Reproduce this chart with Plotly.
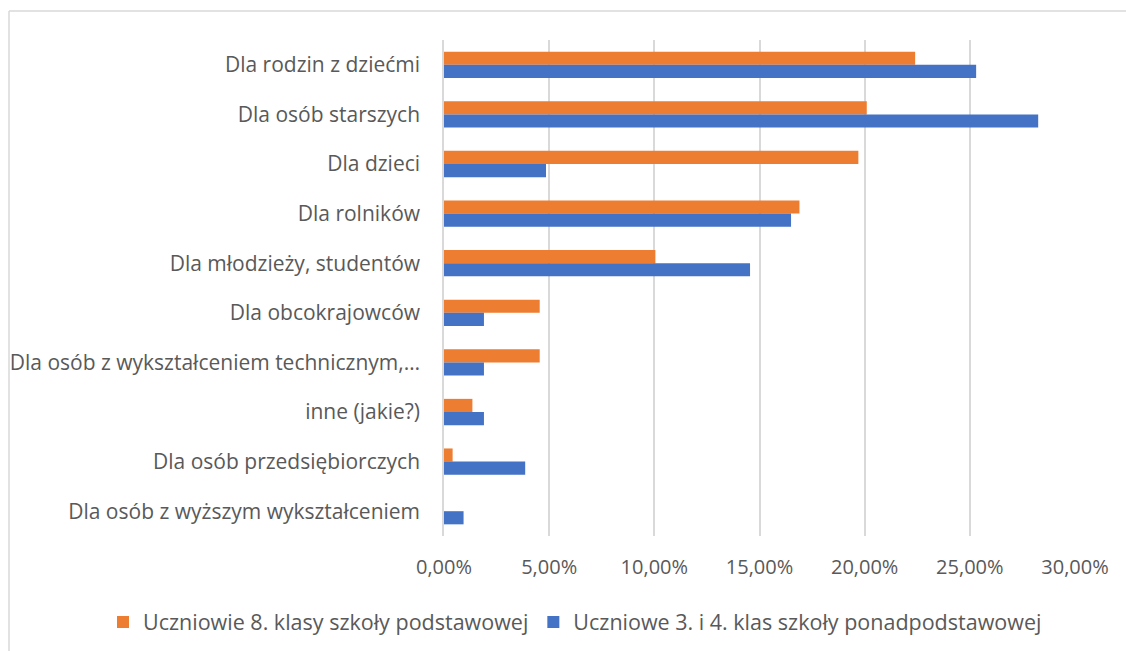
import plotly.graph_objects as go

categories = [
    "Dla rodzin z dziećmi",
    "Dla osób starszych",
    "Dla dzieci",
    "Dla rolników",
    "Dla młodzieży, studentów",
    "Dla obcokrajowców",
    "Dla osób z wykształceniem technicznym,…",
    "inne (jakie?)",
    "Dla osób przedsiębiorczych",
    "Dla osób z wyższym wykształceniem",
]
series_8 = [0.224, 0.201, 0.197, 0.169, 0.1005, 0.0455, 0.0455, 0.0135, 0.0041, 0.0]
series_34 = [0.253, 0.2825, 0.0485, 0.165, 0.1455, 0.019, 0.019, 0.019, 0.0386, 0.0093]
name_8 = "Uczniowie 8. klasy szkoły podstawowej"
name_34 = "Uczniowe 3. i 4. klas szkoły ponadpodstawowej"
x_ticks = [0, 0.05, 0.10, 0.15, 0.20, 0.25, 0.30]

FONT = "Open Sans"
TXT = "#595959"

fig = go.Figure()
fig.add_trace(go.Bar(y=categories, x=series_8, name=name_8, orientation="h",
                     marker=dict(color="#ED7D31", line=dict(width=0))))
fig.add_trace(go.Bar(y=categories, x=series_34, name=name_34, orientation="h",
                     marker=dict(color="#4472C4", line=dict(width=0))))

L, R, T, B = 444, 51, 40, 115
W, H = 1126, 651
pw = W - L - R
ph = H - T - B

def px2paper_x(x):
    return (x - L) / pw

def px2paper_y(y):
    return (H - B - y) / ph

fig.update_layout(
    width=W, height=H,
    margin=dict(l=L, r=R, t=T, b=B, autoexpand=False),
    paper_bgcolor="white", plot_bgcolor="white",
    barmode="group", bargap=0.47, bargroupgap=0,
    separators=", ",
    font=dict(family=FONT, size=20, color=TXT),
    showlegend=True,
    legend=dict(orientation="h", xref="paper", yref="paper",
                x=px2paper_x(103), xanchor="left", y=px2paper_y(622), yanchor="middle",
                font=dict(family=FONT, size=21.5, color=TXT), traceorder="normal",
                entrywidth=0),
    xaxis=dict(range=[0, 0.30], tickvals=x_ticks, tickformat=".2%",
               showgrid=True, gridcolor="#D9D9D9", gridwidth=1.5,
               zeroline=False, showline=False, ticks="",
               ticklabelstandoff=17,
               tickfont=dict(family=FONT, size=20, color=TXT)),
    yaxis=dict(autorange="reversed", showgrid=False, zeroline=False,
               showline=True, linecolor="#D9D9D9", linewidth=1.5, ticks="",
               ticklabelstandoff=18,
               tickfont=dict(family=FONT, size=21, color=TXT)),
    shapes=[
        dict(type="line", xref="paper", yref="paper",
             x0=px2paper_x(9), x1=px2paper_x(1130), y0=px2paper_y(11), y1=px2paper_y(11),
             line=dict(color="#D9D9D9", width=1.5)),
        dict(type="line", xref="paper", yref="paper",
             x0=px2paper_x(9), x1=px2paper_x(9), y0=px2paper_y(11), y1=px2paper_y(655),
             line=dict(color="#D9D9D9", width=1.5)),
    ],
)

fig.write_html("out.html", config={"displayModeBar": False},
               post_script="document.body.style.margin='0';")
